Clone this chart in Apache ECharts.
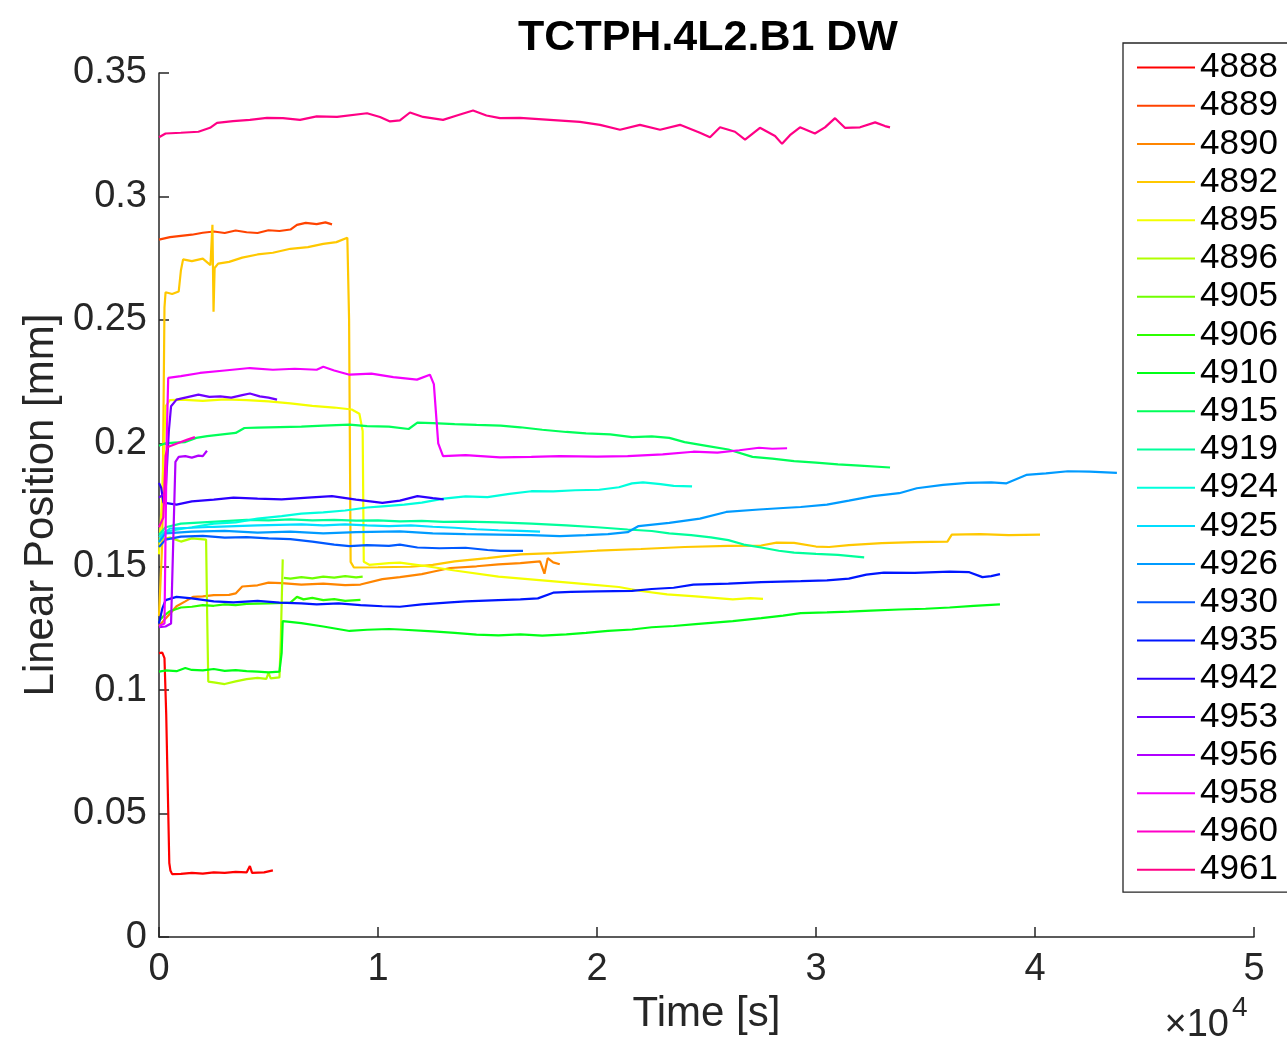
<!DOCTYPE html>
<html>
<head>
<meta charset="utf-8">
<script src="https://cdn.jsdelivr.net/npm/echarts@6/dist/echarts.min.js"></script>
<style>
html,body{margin:0;padding:0;background:#fff;}
#chart{width:1287px;height:1040px;}
</style>
</head>
<body>
<div id="chart"></div>
<script>
// ---------- DATA ----------
const titleText = 'TCTPH.4L2.B1 DW';
const xTickValues = [0, 10000, 20000, 30000, 40000, 50000];
const yTickValues = [0, 0.05, 0.1, 0.15, 0.2, 0.25, 0.3, 0.35];
const seriesNames = ['4888','4889','4890','4892','4895','4896','4905','4906','4910','4915','4919','4924','4925','4926','4930','4935','4942','4953','4956','4958','4960','4961'];

const s4888 = [[0,0.115],[150,0.1152],[250,0.113],[330,0.09],[400,0.06],[470,0.03],[520,0.027],[600,0.0255],[1000,0.0256],[1500,0.026],[2000,0.0257],[2500,0.0262],[3000,0.026],[3500,0.0264],[4000,0.0262],[4150,0.0288],[4250,0.026],[4800,0.0262],[5200,0.027]];
const s4889 = [[0,0.2825],[500,0.2835],[1000,0.284],[1500,0.2845],[2000,0.2853],[2500,0.2858],[3000,0.2852],[3500,0.2862],[4000,0.2855],[4500,0.2852],[5000,0.2863],[5500,0.286],[6000,0.2866],[6300,0.2885],[6700,0.2893],[7200,0.2888],[7600,0.2895],[7900,0.2887]];
const s4890 = [[0,0.126],[200,0.128],[500,0.131],[800,0.134],[1200,0.136],[1550,0.1378],[2000,0.138],[2500,0.1385],[3200,0.1386],[3500,0.1392],[3800,0.142],[4500,0.1425],[5000,0.1436],[5600,0.1434],[6500,0.1428],[7500,0.1432],[8500,0.1426],[9200,0.1428],[10200,0.145],[11000,0.1458],[12000,0.147],[12500,0.148],[13300,0.1495],[14500,0.1502],[15500,0.151],[16500,0.1515],[17400,0.1522],[17600,0.1472],[17750,0.1535],[18000,0.1518],[18300,0.151]];
const s4892 = [[0,0.13],[150,0.16],[250,0.255],[300,0.2612],[600,0.2605],[900,0.2615],[1000,0.27],[1100,0.2745],[1500,0.2738],[2000,0.2748],[2350,0.2722],[2440,0.2885],[2490,0.2533],[2540,0.271],[2700,0.2728],[3200,0.2735],[3800,0.2752],[4500,0.2765],[5200,0.2772],[6000,0.2788],[6800,0.2795],[7500,0.2808],[8100,0.2815],[8600,0.2833],[8680,0.25],[8750,0.152],[8900,0.1497],[10000,0.1498],[11500,0.15],[12500,0.1508],[13500,0.1522],[15000,0.1535],[16500,0.155],[18000,0.1555],[20000,0.1565],[22000,0.1572],[24000,0.158],[26000,0.1585],[27500,0.1586],[28200,0.1598],[29000,0.1597],[30000,0.1582],[30600,0.158],[31500,0.1588],[33000,0.1596],[34500,0.16],[36000,0.1602],[36200,0.163],[37500,0.1632],[38800,0.1628],[40230,0.163]];
const s4895 = [[0,0.155],[150,0.18],[300,0.215],[500,0.2175],[1000,0.2177],[2000,0.2172],[3000,0.2178],[4000,0.2175],[5000,0.217],[6000,0.2162],[7000,0.2152],[8000,0.2145],[8800,0.2137],[9150,0.212],[9300,0.205],[9350,0.152],[9600,0.1508],[10500,0.1515],[11000,0.1517],[12000,0.1505],[13500,0.1485],[15500,0.146],[17500,0.1445],[19500,0.143],[21000,0.1418],[22000,0.1402],[23200,0.1388],[24500,0.138],[26200,0.1368],[27000,0.1373],[27580,0.137]];
const s4896 = [[0,0.161],[500,0.1618],[1000,0.1602],[1500,0.1615],[2150,0.161],[2200,0.13],[2250,0.1035],[2500,0.1032],[3000,0.1025],[3500,0.1036],[4000,0.1045],[4500,0.105],[4900,0.1046],[5000,0.107],[5100,0.1048],[5500,0.1052],[5560,0.12],[5650,0.153]];
const s4905 = [[5700,0.1455],[6000,0.1452],[6500,0.1458],[7000,0.1453],[7500,0.146],[8000,0.1456],[8500,0.1462],[9000,0.1457],[9300,0.146]];
const s4906 = [[0,0.128],[200,0.13],[500,0.132],[1000,0.1335],[1500,0.1338],[2000,0.1345],[2500,0.1342],[3000,0.1348],[3500,0.1345],[4000,0.135],[5000,0.1352],[6000,0.1355],[6300,0.1378],[6600,0.1368],[7000,0.1374],[7500,0.1365],[8000,0.1369],[8500,0.1362],[9200,0.1366]];
const s4910 = [[0,0.1075],[300,0.108],[800,0.1077],[1200,0.109],[1500,0.1082],[2000,0.108],[2500,0.1086],[3000,0.1078],[3500,0.1081],[4000,0.1077],[4500,0.1075],[5000,0.1072],[5500,0.1075],[5600,0.115],[5650,0.128],[6500,0.1272],[7500,0.1258],[8700,0.124],[9500,0.1245],[10500,0.1248],[11000,0.1246],[12500,0.1238],[13500,0.1232],[14500,0.1225],[15500,0.1222],[16500,0.1226],[17500,0.1221],[18600,0.1226],[19500,0.1232],[20500,0.124],[21600,0.1246],[22500,0.1255],[23500,0.126],[24500,0.1268],[26200,0.128],[27500,0.1292],[28500,0.1302],[29300,0.1312],[30500,0.1315],[31500,0.1318],[32500,0.1322],[33800,0.1327],[35000,0.133],[36100,0.1335],[37200,0.1342],[38400,0.1348]];
const s4915 = [[0,0.199],[300,0.2],[700,0.2003],[1200,0.2005],[1700,0.2022],[2200,0.2029],[2800,0.2035],[3500,0.2042],[3900,0.2062],[4500,0.2064],[5500,0.2066],[6500,0.2068],[7500,0.2072],[8700,0.2076],[9500,0.207],[10500,0.2068],[11400,0.2058],[11800,0.2084],[12500,0.2082],[13500,0.2078],[14500,0.2075],[15600,0.2072],[16500,0.2065],[17500,0.2055],[18600,0.2046],[19500,0.204],[20600,0.2036],[21600,0.2025],[22500,0.2028],[23300,0.2022],[24000,0.2005],[25000,0.199],[26000,0.1975],[27100,0.1945],[28000,0.1938],[29000,0.1928],[30000,0.1922],[31000,0.1915],[32000,0.191],[33380,0.1902]];
const s4919 = [[0,0.163],[300,0.166],[1000,0.1675],[2000,0.168],[3000,0.1685],[4000,0.169],[5000,0.1688],[6000,0.1692],[7000,0.1688],[8000,0.169],[9000,0.1687],[10000,0.1688],[11000,0.1684],[12000,0.1686],[13000,0.1682],[14000,0.1683],[15500,0.168],[17000,0.1675],[18600,0.1668],[20000,0.166],[21400,0.1651],[22500,0.1645],[23300,0.1635],[24300,0.1628],[25200,0.1619],[26000,0.1608],[26700,0.159],[27500,0.1578],[28300,0.1565],[29000,0.1557],[30000,0.1552],[31000,0.1548],[32200,0.1538]];
const s4924 = [[0,0.16],[200,0.164],[800,0.165],[1500,0.166],[2500,0.1675],[3500,0.168],[4500,0.1695],[5600,0.1705],[6500,0.1715],[7500,0.172],[8500,0.1728],[9500,0.174],[10200,0.1745],[11200,0.1752],[12000,0.176],[13000,0.1776],[14000,0.1785],[15000,0.1782],[16000,0.1795],[17000,0.1806],[18000,0.1805],[19000,0.181],[20100,0.1812],[21000,0.1822],[21600,0.1838],[22100,0.1842],[22900,0.1835],[23500,0.1828],[24340,0.1826]];
const s4925 = [[0,0.162],[500,0.1655],[1500,0.1658],[2500,0.1662],[3500,0.1665],[4500,0.1668],[5500,0.167],[6500,0.1672],[7500,0.1668],[8500,0.1672],[9500,0.1668],[10500,0.1665],[11500,0.1668],[12500,0.1662],[13500,0.1658],[14500,0.1652],[15500,0.1648],[16500,0.1645],[17400,0.1642]];
const s4926 = [[0,0.16],[300,0.1635],[1500,0.1642],[3000,0.1645],[4500,0.1638],[6000,0.1642],[7500,0.1635],[9000,0.164],[11000,0.1643],[12500,0.1635],[14000,0.1632],[15500,0.163],[17000,0.1628],[18300,0.1624],[19500,0.1628],[20500,0.1632],[21400,0.164],[21900,0.1665],[23300,0.1678],[24700,0.1695],[25900,0.1722],[27400,0.1732],[28500,0.1738],[29300,0.1742],[30500,0.1752],[31500,0.1768],[32600,0.1786],[33800,0.1798],[34600,0.1818],[35800,0.1832],[36900,0.184],[38000,0.1842],[38700,0.1838],[39600,0.1872],[40500,0.1878],[41500,0.1887],[42500,0.1885],[43740,0.188]];
const s4930 = [[0,0.158],[300,0.161],[1000,0.1622],[2000,0.1625],[3000,0.1618],[4000,0.162],[5000,0.1615],[6000,0.1612],[7000,0.1602],[8000,0.159],[8700,0.1584],[9500,0.1588],[10500,0.1585],[11000,0.159],[11800,0.1578],[12800,0.1575],[14000,0.1577],[15000,0.1568],[15600,0.1564],[16620,0.1564]];
const s4935 = [[0,0.127],[150,0.133],[300,0.1365],[800,0.1378],[1500,0.1372],[2500,0.136],[3400,0.1356],[4500,0.1362],[5500,0.1355],[6500,0.1352],[7200,0.1348],[8200,0.1352],[9200,0.1345],[10200,0.134],[11000,0.1338],[12000,0.1348],[13300,0.1356],[14000,0.136],[15500,0.1365],[16500,0.1368],[17300,0.1372],[18000,0.1395],[18800,0.1398],[20000,0.14],[21600,0.1402],[22500,0.141],[23500,0.1415],[24400,0.1428],[26000,0.1432],[27500,0.1438],[29300,0.1442],[30500,0.1445],[31500,0.1452],[32300,0.1468],[33100,0.1476],[34500,0.1475],[36100,0.148],[37000,0.1478],[37600,0.1458],[38000,0.1462],[38400,0.147]];
const s4942 = [[0,0.184],[100,0.182],[200,0.176],[800,0.1752],[1500,0.1765],[2500,0.1772],[3400,0.178],[4500,0.1776],[5600,0.1773],[6800,0.178],[7900,0.1786],[9000,0.1772],[10200,0.1759],[11000,0.1768],[11800,0.1786],[12500,0.1778],[13000,0.1773]];
const s4953 = [[0,0.178],[300,0.18],[450,0.205],[550,0.215],[800,0.2177],[1200,0.2185],[1800,0.2197],[2300,0.2188],[2800,0.219],[3300,0.2185],[3800,0.2195],[4150,0.2202],[4600,0.219],[5000,0.2185],[5390,0.2177]];
const s4956 = [[0,0.1255],[300,0.1258],[550,0.127],[650,0.16],[750,0.1925],[900,0.1945],[1200,0.1948],[1500,0.1942],[1800,0.195],[2000,0.1948],[2190,0.197]];
const s4958 = [[0,0.126],[250,0.127],[350,0.2],[420,0.2265],[1000,0.2272],[1870,0.2285],[3000,0.2295],[4150,0.2305],[5200,0.2298],[6200,0.2302],[7200,0.2298],[7500,0.231],[8000,0.2295],[8700,0.2278],[9700,0.2282],[10700,0.2268],[11780,0.2258],[12370,0.2278],[12550,0.224],[12750,0.2],[12970,0.1948],[14000,0.1952],[15570,0.1943],[17000,0.1945],[18300,0.1948],[20000,0.1946],[21400,0.1948],[23000,0.1955],[24400,0.1966],[25500,0.1962],[26500,0.1972],[27400,0.1982],[28000,0.1978],[28680,0.198]];
const s4960 = [[0,0.166],[200,0.17],[300,0.195],[400,0.1985],[700,0.1995],[1000,0.2005],[1300,0.2015],[1640,0.2025]];
const s4961 = [[0,0.324],[300,0.3255],[1000,0.3258],[1800,0.3262],[2330,0.3278],[2650,0.3298],[3380,0.3305],[4150,0.331],[4930,0.3318],[5660,0.3317],[6440,0.331],[7200,0.3324],[8130,0.3322],[9500,0.3337],[10090,0.3322],[10550,0.3304],[11000,0.3308],[11460,0.334],[12060,0.3322],[12970,0.331],[13600,0.3328],[14340,0.3348],[14950,0.3328],[15570,0.3317],[16480,0.3318],[17850,0.331],[19220,0.3302],[20140,0.329],[21050,0.327],[21960,0.329],[22880,0.327],[23790,0.329],[24700,0.3258],[25160,0.324],[25620,0.328],[26300,0.3262],[26760,0.323],[27440,0.3278],[28130,0.3245],[28450,0.3213],[28810,0.3248],[29270,0.328],[29950,0.3255],[30410,0.328],[30870,0.3317],[31320,0.3278],[32010,0.328],[32700,0.33],[33150,0.3285],[33380,0.328]];

const seriesData = [s4888,s4889,s4890,s4892,s4895,s4896,s4905,s4906,s4910,s4915,s4919,s4924,s4925,s4926,s4930,s4935,s4942,s4953,s4956,s4958,s4960,s4961];

// ---------- STYLE ----------
const lineColors = ['#ff0000','#ff4300','#ff8500','#ffc800','#f4ff00','#b1ff00','#6fff00','#2cff00','#00ff16','#00ff59','#00ff9b','#00ffdd','#00ddff','#009bff','#0059ff','#0016ff','#2c00ff','#6f00ff','#b100ff','#f400ff','#ff00c8','#ff0085'];
const FONT = '"Liberation Sans", Arial, Helvetica, sans-serif';
const AX = '#262626';

const chart = echarts.init(document.getElementById('chart'), null, {renderer:'canvas'});

const series = seriesNames.map((n, i) => ({
  name: n,
  type: 'line',
  data: seriesData[i],
  symbol: 'none',
  showSymbol: false,
  smooth: false,
  lineStyle: { width: 2.2, color: lineColors[i] },
  itemStyle: { color: lineColors[i] },
  emphasis: { disabled: true },
  silent: true
}));

chart.setOption({
  animation: false,
  backgroundColor: '#ffffff',
  grid: { left: 159, right: 33, top: 73, bottom: 102, containLabel: false },
  xAxis: {
    type: 'value', min: 0, max: 50000, interval: 10000,
    name: 'Time [s]', nameLocation: 'middle', nameGap: 55,
    nameTextStyle: { fontFamily: FONT, fontSize: 42, color: AX },
    axisLine: { show: true, lineStyle: { color: AX, width: 1.5 } },
    axisTick: { show: true, inside: true, length: 10, lineStyle: { color: AX, width: 1.5 } },
    axisLabel: { fontFamily: FONT, fontSize: 38, color: AX, margin: 13,
      formatter: v => xTickValues.indexOf(v) >= 0 ? String(v / 10000) : '' },
    splitLine: { show: false }
  },
  yAxis: {
    type: 'value', min: 0, max: 0.35, interval: 0.05,
    name: 'Linear Position [mm]', nameLocation: 'middle', nameGap: 94, nameRotate: 90,
    nameTextStyle: { fontFamily: FONT, fontSize: 42, color: AX },
    axisLine: { show: true, lineStyle: { color: AX, width: 1.5 } },
    axisTick: { show: true, inside: true, length: 10, lineStyle: { color: AX, width: 1.5 } },
    axisLabel: { fontFamily: FONT, fontSize: 38, color: AX, margin: 12,
      formatter: v => { const r = Math.round(v * 100) / 100; return yTickValues.indexOf(r) >= 0 ? String(r) : ''; } },
    splitLine: { show: false }
  },
  legend: {
    show: true, orient: 'vertical', left: 1123, top: 43,
    padding: [7, 40, 5, 14],
    itemWidth: 58, itemHeight: 2, itemGap: 3.2,
    icon: 'path://M0 0H58V2H0Z',
    selectedMode: false,
    backgroundColor: '#ffffff',
    borderColor: AX, borderWidth: 1.3, borderRadius: 0,
    textStyle: { fontFamily: FONT, fontSize: 35, lineHeight: 34.5, color: '#000000' },
    data: seriesNames
  },
  graphic: [
    { type: 'text', x: 708, y: 38,
      style: { text: titleText, fontFamily: FONT, fontSize: 43, fontWeight: 'bold', fill: '#000',
        textAlign: 'center', textVerticalAlign: 'middle' } },
    { type: 'text', x: 1229, y: 1026,
      style: { text: '×10', fontFamily: FONT, fontSize: 38, fill: AX, textAlign: 'right', textVerticalAlign: 'middle' } },
    { type: 'text', x: 1232, y: 1008,
      style: { text: '4', fontFamily: FONT, fontSize: 28, fill: AX, textAlign: 'left', textVerticalAlign: 'middle' } }
  ],
  series: series
});
</script>
</body>
</html>
